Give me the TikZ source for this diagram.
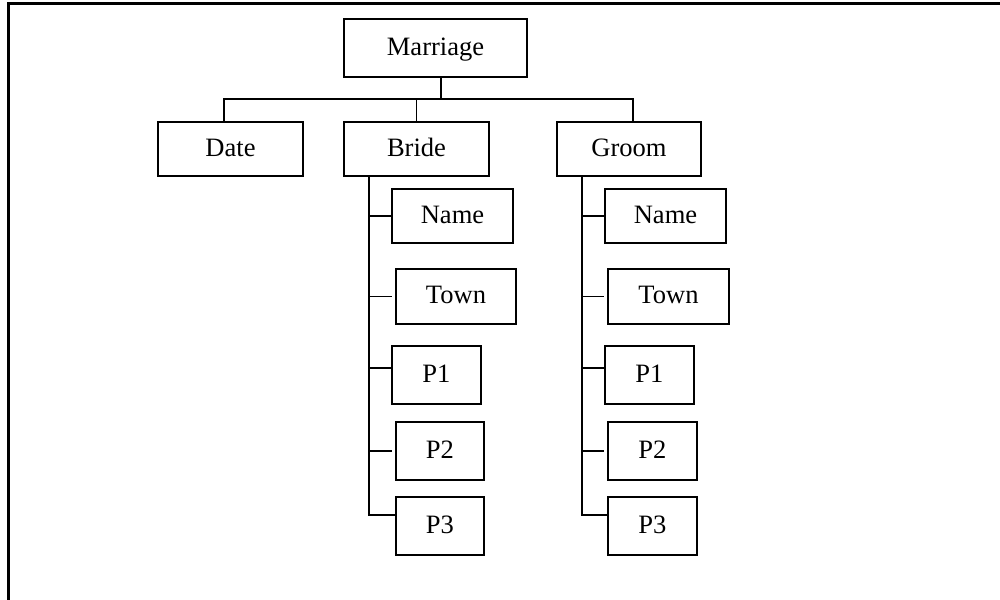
\documentclass[tikz,border=0pt]{standalone}
\usepackage{fontspec}
\setmainfont{Liberation Serif}
\begin{document}
\begin{tikzpicture}[x=0.75pt,y=-0.75pt,
  bx/.style 2 args={draw, line width=1.1pt, inner sep=0pt,
    minimum width=#1*0.75pt, minimum height=#2*0.75pt,
    font=\fontsize{19.9}{22}\selectfont, text height=13.1pt, text depth=2.6pt},
  conn/.style={line width=1.1pt},
  frame/.style={line width=1.6pt}]
\useasboundingbox (0,0) rectangle (1000,600);
\draw[frame] (8.5,600) -- (8.5,3.5) -- (1000,3.5);

\node[bx={183}{58}] (m) at (435.5,48) {Marriage};
\node[bx={145}{54}] (date) at (230.5,149) {Date};
\node[bx={145}{54}] (bride) at (416.5,149) {Bride};
\node[bx={144}{54}] (groom) at (629,149) {Groom};

\node[bx={121}{54}] (bname) at (452.5,216) {Name};
\node[bx={120}{55}] (btown) at (456,296.5) {Town};
\node[bx={89}{58}] (bp1) at (436.5,375) {P1};
\node[bx={88}{58}] (bp2) at (440,451) {P2};
\node[bx={88}{58}] (bp3) at (440,526) {P3};

\node[bx={121}{54}] (gname) at (665.5,216) {Name};
\node[bx={121}{55}] (gtown) at (668.5,296.5) {Town};
\node[bx={89}{58}] (gp1) at (649.5,375) {P1};
\node[bx={89}{58}] (gp2) at (652.5,451) {P2};
\node[bx={89}{58}] (gp3) at (652.5,526) {P3};

\coordinate (bus) at (441,99);
\coordinate (busl) at (224,99);
\coordinate (busr) at (633,99);
\draw[conn] (m.south -| bus) -- (bus);
\draw[conn] (date.north -| busl) -- (busl) -- (busr) -- (groom.north -| busr);
\draw[conn] (bride.north) -- (bride.north |- bus);

\coordinate (bt) at (369,515);
\draw[conn] (bride.south -| bt) -- (bt) -- (bp3.west |- bt);
\draw[conn] (bname.west -| bt) -- (bname.west);
\draw[conn,shorten >=2.25pt] (btown.west -| bt) -- (btown.west);
\draw[conn] (bt |- 0,368) -- (bp1.west |- 0,368);
\draw[conn,shorten >=2.25pt] (bp2.west -| bt) -- (bp2.west);

\coordinate (gt) at (582,515);
\draw[conn] (groom.south -| gt) -- (gt) -- (gp3.west |- gt);
\draw[conn] (gname.west -| gt) -- (gname.west);
\draw[conn,shorten >=2.25pt] (gtown.west -| gt) -- (gtown.west);
\draw[conn] (gt |- 0,368) -- (gp1.west |- 0,368);
\draw[conn,shorten >=2.25pt] (gp2.west -| gt) -- (gp2.west);
\end{tikzpicture}
\end{document}
